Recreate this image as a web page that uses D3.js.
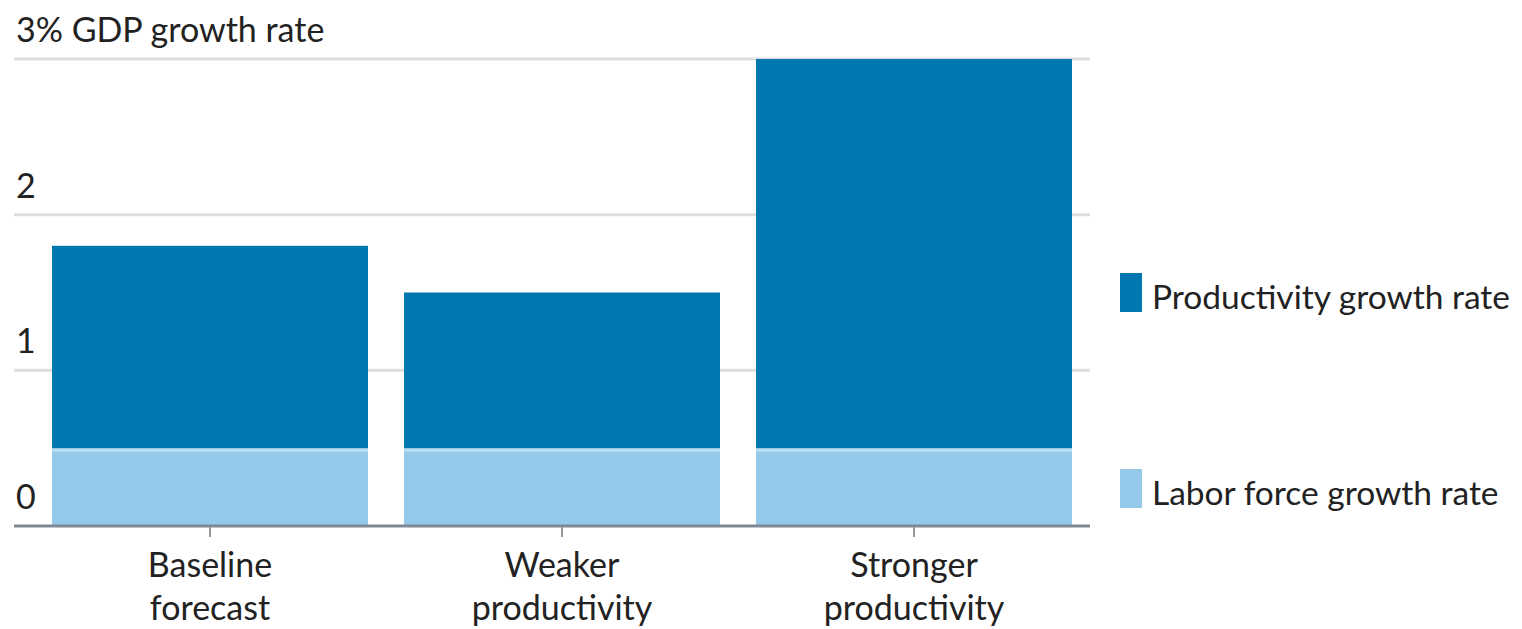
<!DOCTYPE html>
<html>
<head>
<meta charset="utf-8">
<script src="https://cdn.jsdelivr.net/npm/d3@7"></script>
<style>
  html, body { margin: 0; padding: 0; background: #fff; }
  svg { display: block; }
  text { font-family: Lato, "Open Sans", sans-serif; fill: #222; }
</style>
</head>
<body>
<svg id="chart" width="1522" height="629"></svg>
<script>
// ---- data ----
const categories = [["Baseline", "forecast"], ["Weaker", "productivity"], ["Stronger", "productivity"]];
const laborGrowth = [0.5, 0.5, 0.5];
const productivityGrowth = [1.3, 1.0, 2.5];
const seriesNames = ["Productivity growth rate", "Labor force growth rate"];
const seriesColors = ["#0077ae", "#95c9ea"];
const yTicks = [0, 1, 2, 3];
const yTickLabels = ["0", "1", "2", "3% GDP growth rate"];

// ---- layout ----
const y0px = 526, y3px = 59;
const gridLeft = 14, gridRight = 1090;
const fontSize = 34;
const legendFontSize = 33.5;

const svg = d3.select("#chart");

const y = d3.scaleLinear().domain([0, 3]).range([y0px, y3px]);
const keys = categories.map(c => c.join(" "));
const x = d3.scaleBand().domain(keys).range([16, 1108])
  .paddingInner(36 / 352).paddingOuter(36 / 352);

// gridlines
svg.append("g").selectAll("line")
  .data(yTicks.filter(t => t > 0))
  .join("line")
  .attr("x1", gridLeft).attr("x2", gridRight)
  .attr("y1", d => y(d)).attr("y2", d => y(d))
  .attr("stroke", "#dedede").attr("stroke-width", 3);

// y tick labels
svg.append("g").selectAll("text")
  .data(yTicks)
  .join("text")
  .attr("x", 16)
  .attr("y", d => y(d) - 17)
  .attr("font-size", fontSize)
  .text((d, i) => yTickLabels[i]);

// stacked data
const rows = keys.map((k, i) => ({ key: k, labor: laborGrowth[i], productivity: productivityGrowth[i] }));
const stacked = d3.stack().keys(["labor", "productivity"])(rows);
const colorFor = { labor: seriesColors[1], productivity: seriesColors[0] };

svg.append("g").selectAll("g")
  .data(stacked)
  .join("g")
  .attr("fill", d => colorFor[d.key])
  .selectAll("rect")
  .data(d => d)
  .join("rect")
  .attr("x", d => x(d.data.key))
  .attr("width", x.bandwidth())
  .attr("y", d => y(d[1]))
  .attr("height", d => y(d[0]) - y(d[1]));

// light separator line on top of labor segments
svg.append("g").selectAll("line")
  .data(rows)
  .join("line")
  .attr("x1", d => x(d.key)).attr("x2", d => x(d.key) + x.bandwidth())
  .attr("y1", d => y(d.labor) + 2).attr("y2", d => y(d.labor) + 2)
  .attr("stroke", "#b9def4").attr("stroke-width", 3);

// x axis baseline
svg.append("line")
  .attr("x1", gridLeft).attr("x2", gridRight)
  .attr("y1", y(0)).attr("y2", y(0))
  .attr("stroke", "#7d8a96").attr("stroke-width", 3);

// ticks
svg.append("g").selectAll("line")
  .data(keys)
  .join("line")
  .attr("x1", d => x(d) + x.bandwidth() / 2).attr("x2", d => x(d) + x.bandwidth() / 2)
  .attr("y1", y(0) + 1).attr("y2", y(0) + 11)
  .attr("stroke", "#999").attr("stroke-width", 2);

// x labels
const xl = svg.append("g").selectAll("text")
  .data(categories)
  .join("text")
  .attr("text-anchor", "middle")
  .attr("font-size", fontSize)
  .attr("x", (d, i) => x(keys[i]) + x.bandwidth() / 2)
  .attr("y", 577);
xl.selectAll("tspan")
  .data(d => d)
  .join("tspan")
  .attr("x", function () { return d3.select(this.parentNode).attr("x"); })
  .attr("dy", (d, i) => i === 0 ? 0 : 43)
  .text(d => d);

// legend
const legendY = [292, 488];
const lg = svg.append("g").selectAll("g")
  .data(seriesNames)
  .join("g")
  .attr("transform", (d, i) => `translate(1120,${legendY[i]})`);
lg.append("rect")
  .attr("x", 0).attr("y", -19).attr("width", 22).attr("height", 39)
  .attr("fill", (d, i) => seriesColors[i]);
lg.append("text")
  .attr("x", 32).attr("y", 17)
  .attr("font-size", legendFontSize)
  .text(d => d);
</script>
</body>
</html>
